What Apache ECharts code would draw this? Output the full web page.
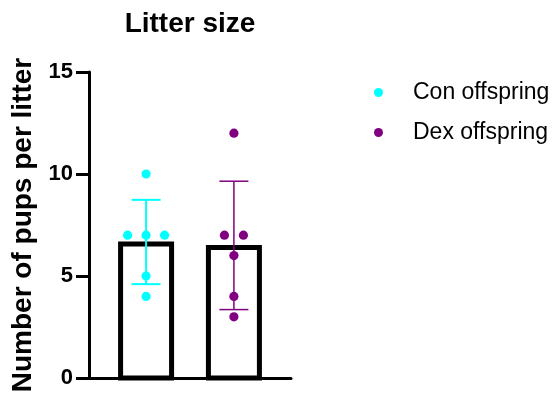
<!DOCTYPE html>
<html>
<head>
<meta charset="utf-8">
<script src="https://cdn.jsdelivr.net/npm/echarts@6/dist/echarts.min.js"></script>
<style>
html,body{margin:0;padding:0;background:#fff;}
#chart{width:559px;height:396px;}
</style>
</head>
<body>
<div id="chart"></div>
<script>
// ---- data ----
const titleText = 'Litter size';
const yAxisName = 'Number of pups per litter';
const groups = ['Con offspring', 'Dex offspring'];
const conValues = [10, 7, 7, 7, 5, 4];
const dexValues = [12, 7, 7, 6, 4, 3];
const groupColors = ['#00FFFF', '#800080'];
const yMin = 0, yMax = 15, yInterval = 5;

const FONT = '"Liberation Sans", Arial, Helvetica, sans-serif';
const valueSets = [conValues, dexValues];

function mean(a) { return a.reduce((s, v) => s + v, 0) / a.length; }
function sd(a) { const m = mean(a); return Math.sqrt(a.reduce((s, v) => s + (v - m) * (v - m), 0) / (a.length - 1)); }

const barData = valueSets.map((vals, i) => [i + 1, mean(vals)]);
const errData = valueSets.map((vals, i) => [i + 1, mean(vals) - sd(vals), mean(vals) + sd(vals), i]);

// horizontal spread index for repeated values (like a scatter-dot plot)
function pointData(vals, gi) {
  const counts = {};
  vals.forEach(v => counts[v] = (counts[v] || 0) + 1);
  const seen = {};
  return vals.map(v => {
    const k = seen[v] || 0; seen[v] = k + 1;
    return [gi + 1, v, k - (counts[v] - 1) / 2];
  });
}

const chart = echarts.init(document.getElementById('chart'), null, {renderer: 'canvas'});

const option = {
  animation: false,
  backgroundColor: '#fff',
  title: {
    text: titleText,
    left: 190,
    textAlign: 'center',
    top: 10,
    padding: 0,
    textStyle: {fontFamily: FONT, fontWeight: 'bold', fontSize: 28, color: '#000'}
  },
  legend: {
    orient: 'vertical',
    left: 374,
    top: 81,
    itemGap: 17,
    itemWidth: 9,
    itemHeight: 9,
    icon: 'circle',
    padding: 0,
    data: groups,
    textStyle: {fontFamily: FONT, fontSize: 23, color: '#000', padding: [0, 0, 0, 25]}
  },
  grid: {left: 89, right: 268, top: 72, bottom: 18, containLabel: false},
  xAxis: {
    type: 'value', min: 0.35, max: 2.65,
    axisLine: {show: true, onZero: false, lineStyle: {color: '#000', width: 3}},
    axisTick: {show: false}, axisLabel: {show: false}, splitLine: {show: false}
  },
  yAxis: {
    type: 'value', min: yMin, max: yMax, interval: yInterval,
    name: yAxisName, nameLocation: 'middle', nameRotate: 90, nameGap: 52,
    nameTextStyle: {fontFamily: FONT, fontWeight: 'bold', fontSize: 28, color: '#000'},
    axisLine: {show: true, onZero: false, lineStyle: {color: '#000', width: 3}},
    axisTick: {show: true, inside: false, length: 13, lineStyle: {color: '#000', width: 3}},
    axisLabel: {margin: 16, fontFamily: FONT, fontWeight: 'bold', fontSize: 22, color: '#000'},
    splitLine: {show: false}
  },
  series: [
    {
      type: 'custom', name: 'bars', silent: true, z: 1,
      data: barData,
      renderItem: function (params, api) {
        const x = api.value(0), m = api.value(1);
        const p0 = api.coord([x, 0]);
        const p1 = api.coord([x, m]);
        const lw = 5, w = 56;
        return {
          type: 'rect',
          shape: {x: p0[0] - w / 2 + lw / 2, y: p1[1] + lw / 2 - 0.5, width: w - lw, height: p0[1] - p1[1] - lw / 2 + 0.5},
          style: {fill: '#fff', stroke: '#000', lineWidth: lw}
        };
      }
    },
    {
      type: 'custom', name: 'errors', silent: true, z: 2,
      data: errData,
      renderItem: function (params, api) {
        const x = api.value(0), lo = api.value(1), hi = api.value(2), gi = api.value(3);
        const pl = api.coord([x, lo]), ph = api.coord([x, hi]);
        const c = groupColors[gi];
        const lw = gi === 0 ? 2 : 1.5;
        const cw = 29;
        const st = {stroke: c, lineWidth: lw};
        return {
          type: 'group',
          children: [
            {type: 'line', shape: {x1: pl[0], y1: pl[1], x2: ph[0], y2: ph[1]}, style: st},
            {type: 'line', shape: {x1: ph[0] - cw / 2, y1: ph[1], x2: ph[0] + cw / 2, y2: ph[1]}, style: st},
            {type: 'line', shape: {x1: pl[0] - cw / 2, y1: pl[1], x2: pl[0] + cw / 2, y2: pl[1]}, style: st}
          ]
        };
      }
    }
  ].concat(groups.map((g, gi) => ({
    type: 'custom', name: g, z: 3,
    itemStyle: {color: groupColors[gi]},
    data: pointData(valueSets[gi], gi),
    renderItem: function (params, api) {
      const p = api.coord([api.value(0), api.value(1)]);
      const spread = gi === 0 ? 18.5 : 19;
      return {
        type: 'circle',
        shape: {cx: p[0] + api.value(2) * spread, cy: p[1], r: 4.6},
        style: {fill: groupColors[gi]}
      };
    }
  })))
};
chart.setOption(option);
</script>
</body>
</html>
